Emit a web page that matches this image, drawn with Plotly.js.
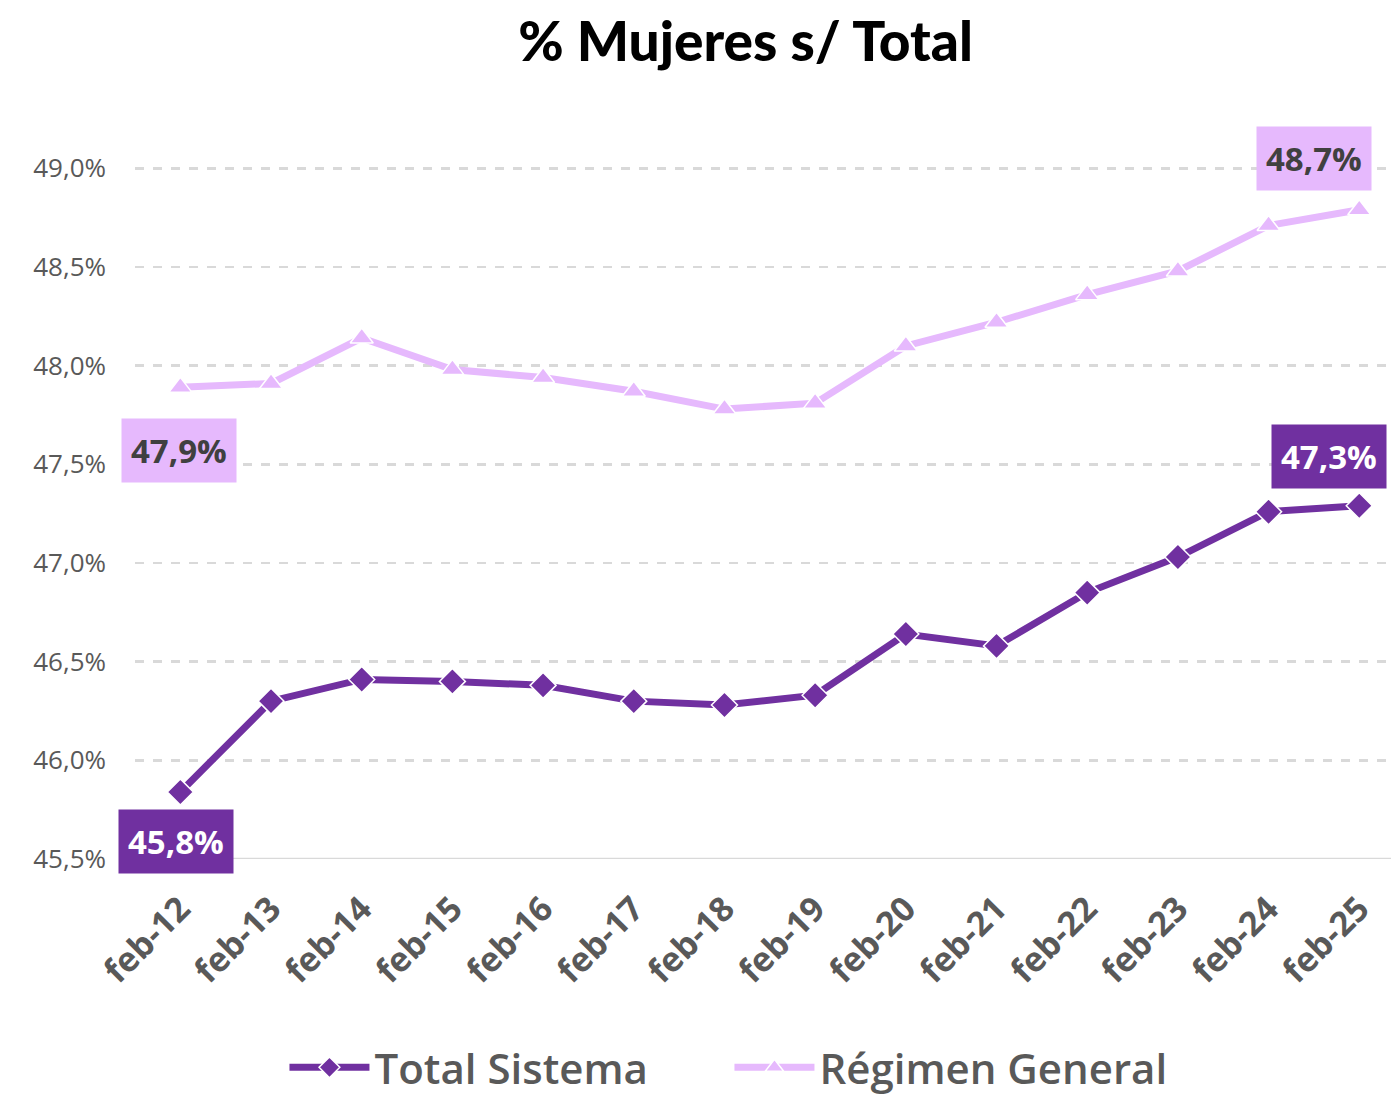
<!DOCTYPE html>
<html>
<head>
<meta charset="utf-8">
<script src="https://cdn.plot.ly/plotly-3.0.1.min.js"></script>
<style>html,body{margin:0;padding:0;background:#fff;}#chart{width:1391px;height:1096px;}</style>
</head>
<body>
<div id="chart"></div>
<script>
const categories = ["feb-12","feb-13","feb-14","feb-15","feb-16","feb-17","feb-18","feb-19","feb-20","feb-21","feb-22","feb-23","feb-24","feb-25"];
const totalSistema = [45.84,46.30,46.41,46.40,46.38,46.30,46.28,46.33,46.64,46.58,46.85,47.03,47.26,47.29];
const regimenGeneral = [47.89,47.91,48.14,47.98,47.94,47.87,47.78,47.81,48.10,48.22,48.36,48.48,48.71,48.79];
const yTicks = [45.5,46.0,46.5,47.0,47.5,48.0,48.5,49.0];
const yTickLabels = ["45,5%","46,0%","46,5%","47,0%","47,5%","48,0%","48,5%","49,0%"];
const labelTexts = ["47,9%","45,8%","48,7%","47,3%"];

const purple = "#7030a0";
const lilac = "#e6b9fd";

const traces = [
  {
    x: categories, y: totalSistema, name: "Total Sistema", type: "scatter", mode: "lines+markers",
    line: {color: purple, width: 7},
    marker: {symbol: "diamond", size: 20, color: purple, line: {color: "#ffffff", width: 1.5}}
  },
  {
    x: categories, y: regimenGeneral, name: "Régimen General", type: "scatter", mode: "lines+markers",
    line: {color: lilac, width: 7},
    marker: {symbol: "triangle-up", size: 20, color: lilac, line: {color: "#ffffff", width: 1.5}}
  }
];

function box(text, x, y, bg, fg) {
  return {text: text, x: x, y: y, xref: "x", yref: "y", showarrow: false,
    bgcolor: bg, borderpad: 9, font: {family: "Open Sans, sans-serif", size: 33, color: fg, weight: 700}};
}

const layout = {
  width: 1391, height: 1096,
  paper_bgcolor: "#ffffff", plot_bgcolor: "#ffffff",
  margin: {l: 135, r: 0, t: 119, b: 237},
  title: {text: "% Mujeres s/ Total", x: 0.536, xanchor: "center", y: 0.962, yanchor: "middle",
    font: {family: "Lato, sans-serif", size: 55, color: "#000000", weight: 900}},
  xaxis: {
    type: "category", range: [-0.5, 13.35], showgrid: false, zeroline: false, automargin: false,
    showline: false, ticks: "", tickangle: -45, ticklabelstandoff: 22,
    tickfont: {family: "Open Sans, sans-serif", size: 34, color: "#595959", weight: 700}
  },
  yaxis: {
    range: [45.5, 49.25], tickmode: "array", tickvals: yTicks, ticktext: yTickLabels, automargin: false,
    showgrid: true, gridcolor: "#d9d9d9", gridwidth: 2.5, griddash: "dash",
    zeroline: false, showline: false, ticks: "", ticklabelstandoff: 28,
    tickfont: {family: "Open Sans, sans-serif", size: 26, color: "#595959"}
  },
  shapes: [
    {type: "line", xref: "paper", yref: "y", x0: 0, x1: 1, y0: 45.5, y1: 45.5, line: {color: "#d9d9d9", width: 2.5}}
  ],
  annotations: [
    box(labelTexts[0], -0.01, 47.57, lilac, "#404040"),
    box(labelTexts[1], -0.05, 45.59, purple, "#ffffff"),
    box(labelTexts[2], 12.5, 49.05, lilac, "#404040"),
    box(labelTexts[3], 12.67, 47.54, purple, "#ffffff")
  ],
  showlegend: true,
  legend: {orientation: "h", x: 0.119, xanchor: "left", xref: "paper", y: 0.026, yref: "container", yanchor: "middle",
    itemwidth: 80, entrywidth: 350, traceorder: "normal",
    font: {family: "Open Sans, sans-serif", size: 42, color: "#595959", weight: 600}},
  hovermode: false
};

Plotly.newPlot("chart", traces, layout, {displayModeBar: false, staticPlot: true});
</script>
</body>
</html>
